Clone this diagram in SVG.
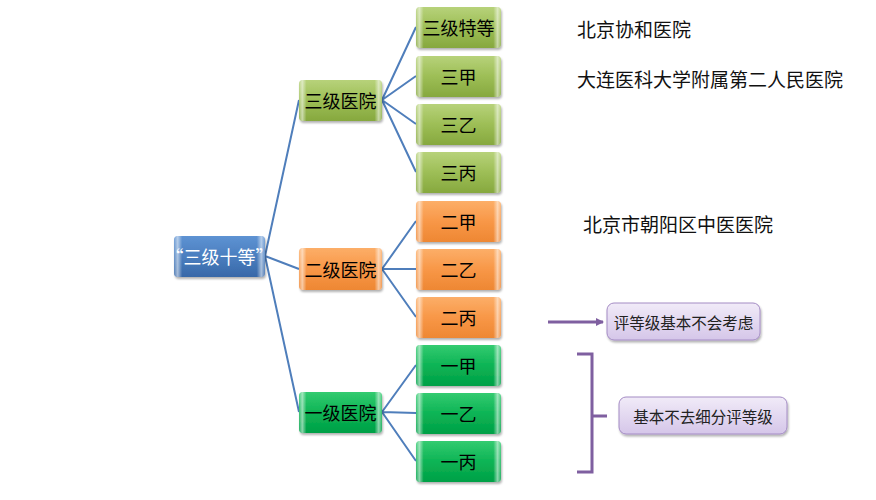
<svg xmlns="http://www.w3.org/2000/svg" width="876" height="500" viewBox="0 0 876 500">
<defs>
<linearGradient id="gOlive" x1="0" y1="0" x2="0" y2="1"><stop offset="0" stop-color="#B7D27A"/><stop offset="0.5" stop-color="#9DBE56"/><stop offset="1" stop-color="#86A83E"/></linearGradient>
<linearGradient id="gOrange" x1="0" y1="0" x2="0" y2="1"><stop offset="0" stop-color="#FCAE68"/><stop offset="0.5" stop-color="#F89747"/><stop offset="1" stop-color="#EE8733"/></linearGradient>
<linearGradient id="gGreen" x1="0" y1="0" x2="0" y2="1"><stop offset="0" stop-color="#33CB70"/><stop offset="0.5" stop-color="#0DB455"/><stop offset="1" stop-color="#00A046"/></linearGradient>
<linearGradient id="gBlue" x1="0" y1="0" x2="0" y2="1"><stop offset="0" stop-color="#5E93D3"/><stop offset="0.5" stop-color="#4A7EBF"/><stop offset="1" stop-color="#3868A8"/></linearGradient>
<linearGradient id="gPurple" x1="0" y1="0" x2="0" y2="1"><stop offset="0" stop-color="#F1EBF8"/><stop offset="1" stop-color="#D5C6E9"/></linearGradient>
<linearGradient id="bevel" x1="0" y1="0" x2="1" y2="0"><stop offset="0" stop-color="#fff" stop-opacity="0.15"/><stop offset="0.04" stop-color="#fff" stop-opacity="0.55"/><stop offset="0.09" stop-color="#fff" stop-opacity="0"/><stop offset="0.91" stop-color="#fff" stop-opacity="0"/><stop offset="0.96" stop-color="#fff" stop-opacity="0.55"/><stop offset="1" stop-color="#fff" stop-opacity="0.15"/></linearGradient>
<marker id="arrowP" markerWidth="8" markerHeight="8" refX="7" refY="4" orient="auto" markerUnits="userSpaceOnUse"><path d="M0,0 L8,4 L0,8 Z" fill="#7F5FA0"/></marker>
<filter id="sh" x="-10%" y="-10%" width="130%" height="140%"><feDropShadow dx="1" dy="2" stdDeviation="1.2" flood-color="#000" flood-opacity="0.3"/></filter>
</defs>
<style>
text{font-family:"Noto Sans CJK SC","Noto Sans",sans-serif;text-anchor:middle;dominant-baseline:central}
.box{filter:url(#sh)}
.bv{fill:url(#bevel)}
.t{font-size:18px;fill:#000}
.tw{font-size:18px;fill:#fff}
.ann{font-size:19px;fill:#111;text-anchor:start}
.pb{fill:url(#gPurple);stroke:#A48CC4;stroke-width:1;filter:url(#sh)}
.pt{font-size:15.5px;fill:#222}
.ln{fill:none;stroke:#4F7EBB;stroke-width:2}
.pl{fill:none;stroke:#7F5FA0;stroke-width:3}
</style>
<rect width="876" height="500" fill="#fff"/>
<g id="connectors">
<path class="ln" d="M265,256 L299,100 M265,256 L299,269 M265,256 L299,412"/>
<path class="ln" d="M382,100 L416,27 M382,100 L416,76 M382,100 L416,124 M382,100 L416,172"/>
<path class="ln" d="M382,269 L416,221 M382,269 L416,269 M382,269 L416,317"/>
<path class="ln" d="M382,412 L416,365 M382,412 L416,413 M382,412 L416,461"/>
<path class="pl" d="M548,322 L603,322" marker-end="url(#arrowP)"/>
<path class="pl" d="M577,354 L592,354 L592,472 L577,472 M592,416 L607,416"/>
</g>
<g id="root"><rect class="box" x="174" y="236" width="91" height="41" rx="4" fill="url(#gBlue)"/><rect class="bv" x="174" y="236" width="91" height="41" rx="4"/><text class="tw" x="219.5" y="256">“三级十等”</text></g>
<g id="l3"><rect class="box" x="299" y="80" width="83" height="41" rx="4" fill="url(#gOlive)"/><rect class="bv" x="299" y="80" width="83" height="41" rx="4"/><text class="t" x="340.5" y="100">三级医院</text></g>
<g id="l2"><rect class="box" x="299" y="248" width="83" height="42" rx="4" fill="url(#gOrange)"/><rect class="bv" x="299" y="248" width="83" height="42" rx="4"/><text class="t" x="340.5" y="269">二级医院</text></g>
<g id="l1"><rect class="box" x="299" y="392" width="83" height="41" rx="4" fill="url(#gGreen)"/><rect class="bv" x="299" y="392" width="83" height="41" rx="4"/><text class="t" x="340.5" y="412">一级医院</text></g>
<g id="n3s"><rect class="box" x="416" y="7" width="85" height="41" rx="4" fill="url(#gOlive)"/><rect class="bv" x="416" y="7" width="85" height="41" rx="4"/><text class="t" x="458.5" y="27">三级特等</text></g>
<g id="n3a"><rect class="box" x="416" y="56" width="85" height="41" rx="4" fill="url(#gOlive)"/><rect class="bv" x="416" y="56" width="85" height="41" rx="4"/><text class="t" x="458.5" y="76">三甲</text></g>
<g id="n3b"><rect class="box" x="416" y="104" width="85" height="41" rx="4" fill="url(#gOlive)"/><rect class="bv" x="416" y="104" width="85" height="41" rx="4"/><text class="t" x="458.5" y="124">三乙</text></g>
<g id="n3c"><rect class="box" x="416" y="152" width="85" height="41" rx="4" fill="url(#gOlive)"/><rect class="bv" x="416" y="152" width="85" height="41" rx="4"/><text class="t" x="458.5" y="172">三丙</text></g>
<g id="n2a"><rect class="box" x="416" y="201" width="85" height="41" rx="4" fill="url(#gOrange)"/><rect class="bv" x="416" y="201" width="85" height="41" rx="4"/><text class="t" x="458.5" y="221">二甲</text></g>
<g id="n2b"><rect class="box" x="416" y="249" width="85" height="41" rx="4" fill="url(#gOrange)"/><rect class="bv" x="416" y="249" width="85" height="41" rx="4"/><text class="t" x="458.5" y="269">二乙</text></g>
<g id="n2c"><rect class="box" x="416" y="297" width="85" height="41" rx="4" fill="url(#gOrange)"/><rect class="bv" x="416" y="297" width="85" height="41" rx="4"/><text class="t" x="458.5" y="317">二丙</text></g>
<g id="n1a"><rect class="box" x="416" y="345" width="85" height="41" rx="4" fill="url(#gGreen)"/><rect class="bv" x="416" y="345" width="85" height="41" rx="4"/><text class="t" x="458.5" y="365">一甲</text></g>
<g id="n1b"><rect class="box" x="416" y="393" width="85" height="41" rx="4" fill="url(#gGreen)"/><rect class="bv" x="416" y="393" width="85" height="41" rx="4"/><text class="t" x="458.5" y="413">一乙</text></g>
<g id="n1c"><rect class="box" x="416" y="441" width="85" height="41" rx="4" fill="url(#gGreen)"/><rect class="bv" x="416" y="441" width="85" height="41" rx="4"/><text class="t" x="458.5" y="461">一丙</text></g>
<g id="annotations">
<text class="ann" x="577" y="28">北京协和医院</text>
<text class="ann" x="577" y="78">大连医科大学附属第二人民医院</text>
<text class="ann" x="583" y="223">北京市朝阳区中医医院</text>
</g>
<g id="note1"><rect class="pb" x="607" y="303" width="153" height="37" rx="7"/><text class="pt" x="683.5" y="322">评等级基本不会考虑</text></g>
<g id="note2"><rect class="pb" x="619" y="397" width="168" height="37" rx="7"/><text class="pt" x="703" y="416">基本不去细分评等级</text></g>
</svg>
